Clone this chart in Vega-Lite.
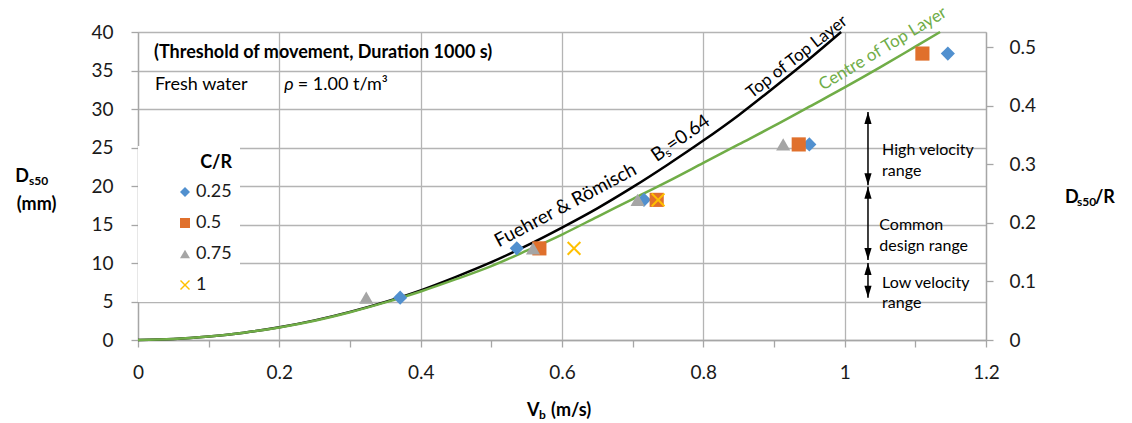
{
  "$schema": "https://vega.github.io/schema/vega-lite/v6.json",
  "width": 848,
  "height": 308,
  "autosize": {"type": "none"},
  "padding": {"left": 138, "top": 32, "right": 146, "bottom": 83},
  "background": "white",
  "config": {"view": {"stroke": null}, "font": "Lato", "text": {"font": "Lato", "color": "#000000"}},
  "datasets": {
    "points": [
      {"V": 0.371, "D": 5.5, "CR": "0.25"},
      {"V": 0.536, "D": 11.9, "CR": "0.25"},
      {"V": 0.716, "D": 18.2, "CR": "0.25"},
      {"V": 0.95, "D": 25.4, "CR": "0.25"},
      {"V": 1.146, "D": 37.2, "CR": "0.25"},
      {"V": 0.568, "D": 11.9, "CR": "0.5"},
      {"V": 0.734, "D": 18.2, "CR": "0.5"},
      {"V": 0.935, "D": 25.4, "CR": "0.5"},
      {"V": 1.11, "D": 37.2, "CR": "0.5"},
      {"V": 0.323, "D": 5.5, "CR": "0.75"},
      {"V": 0.559, "D": 11.9, "CR": "0.75"},
      {"V": 0.707, "D": 18.2, "CR": "0.75"},
      {"V": 0.913, "D": 25.4, "CR": "0.75"},
      {"V": 0.617, "D": 11.9, "CR": "1"},
      {"V": 0.736, "D": 18.2, "CR": "1"}
    ],
    "top": [
      {"V": 0, "D": 0}, {"V": 0.05, "D": 0.12}, {"V": 0.1, "D": 0.45}, {"V": 0.15, "D": 0.95},
      {"V": 0.2, "D": 1.65}, {"V": 0.25, "D": 2.55}, {"V": 0.3, "D": 3.65}, {"V": 0.35, "D": 4.95},
      {"V": 0.4, "D": 6.45}, {"V": 0.45, "D": 8.2}, {"V": 0.5, "D": 10.1}, {"V": 0.55, "D": 12.25},
      {"V": 0.6, "D": 14.6}, {"V": 0.65, "D": 17.1}, {"V": 0.7, "D": 19.85}, {"V": 0.75, "D": 22.8},
      {"V": 0.8, "D": 25.9}, {"V": 0.85, "D": 29.2}, {"V": 0.9, "D": 32.8}, {"V": 0.95, "D": 36.5},
      {"V": 0.995, "D": 40.0}
    ],
    "centre": [
      {"V": 0, "D": 0}, {"V": 0.05, "D": 0.12}, {"V": 0.1, "D": 0.45}, {"V": 0.15, "D": 0.95},
      {"V": 0.2, "D": 1.63}, {"V": 0.25, "D": 2.5}, {"V": 0.3, "D": 3.6}, {"V": 0.35, "D": 4.88},
      {"V": 0.4, "D": 6.3}, {"V": 0.45, "D": 7.9}, {"V": 0.5, "D": 9.6}, {"V": 0.55, "D": 11.6},
      {"V": 0.6, "D": 13.7}, {"V": 0.65, "D": 16.0}, {"V": 0.7, "D": 18.3}, {"V": 0.75, "D": 20.6},
      {"V": 0.8, "D": 23.0}, {"V": 0.85, "D": 25.4}, {"V": 0.9, "D": 27.8}, {"V": 0.95, "D": 30.3},
      {"V": 1.0, "D": 32.8}, {"V": 1.05, "D": 35.4}, {"V": 1.1, "D": 38.1}, {"V": 1.135, "D": 40.0}
    ],
    "arrows": [
      {"range": "High velocity", "lo": 20.1, "hi": 29.6},
      {"range": "Common design", "lo": 10.4, "hi": 19.9},
      {"range": "Low velocity", "lo": 5.5, "hi": 10.0}
    ],
    "one": [{}]
  },
  "layer": [
    {
      "layer": [
        {
          "data": {"name": "points"},
          "mark": {"type": "point", "filled": true, "opacity": 0, "size": 10},
          "encoding": {
            "x": {
              "field": "V", "type": "quantitative",
              "scale": {"domain": [0, 1.2], "nice": false, "zero": true},
              "axis": {
                "title": null,
                "values": [0, 0.1, 0.2, 0.3, 0.4, 0.5, 0.6, 0.7, 0.8, 0.9, 1, 1.1, 1.2],
                "tickCount": 30,
                "format": ".1~f",
                "labelExpr": "round(datum.value*10) % 2 == 0 ? datum.label : ''",
                "grid": true,
                "gridColor": "#B4B4B4",
                "gridWidth": 1.3,
                "gridOpacity": {"condition": {"test": "round(datum.value*10) % 2 == 0", "value": 1}, "value": 0},
                "domainColor": "#A6A6A6",
                "domainWidth": 1.3,
                "tickColor": "#A6A6A6",
                "tickWidth": 1.3,
                "tickSize": 7,
                "labelFontSize": 19,
                "labelColor": "#1a1a1a",
                "labelPadding": 16,
                "labelFlush": false,
                "labelOverlap": false
              }
            },
            "y": {
              "field": "D", "type": "quantitative",
              "scale": {"domain": [0, 40], "nice": false, "zero": true},
              "axis": {
                "title": null,
                "orient": "left",
                "values": [0, 5, 10, 15, 20, 25, 30, 35, 40],
                "tickCount": 20,
                "format": "d",
                "grid": true,
                "gridColor": "#B4B4B4",
                "gridWidth": 1.3,
                "domainColor": "#A6A6A6",
                "domainWidth": 1.3,
                "tickColor": "#A6A6A6",
                "tickWidth": 1.3,
                "tickSize": 7,
                "labelFontSize": 19,
                "labelColor": "#1a1a1a",
                "labelPadding": 18,
                "labelFlush": false,
                "labelOverlap": false
              }
            }
          }
        },
        {
          "data": {"name": "top"},
          "mark": {"type": "line", "color": "#000000", "strokeWidth": 2.5, "interpolate": "monotone"},
          "encoding": {
            "x": {"field": "V", "type": "quantitative"},
            "y": {"field": "D", "type": "quantitative"}
          }
        },
        {
          "data": {"name": "centre"},
          "mark": {"type": "line", "color": "#70AD47", "strokeWidth": 2.5, "interpolate": "monotone"},
          "encoding": {
            "x": {"field": "V", "type": "quantitative"},
            "y": {"field": "D", "type": "quantitative"}
          }
        },
        {
          "data": {"name": "points"},
          "mark": {"type": "point", "filled": true, "opacity": 1, "size": 200, "strokeWidth": 0},
          "encoding": {
            "x": {"field": "V", "type": "quantitative"},
            "y": {"field": "D", "type": "quantitative"},
            "color": {
              "field": "CR", "type": "nominal",
              "scale": {"domain": ["0.25", "0.5", "0.75", "1"], "range": ["#5190CF", "#E0702C", "#A5A5A5", "#FFC000"]},
              "legend": {
                "title": "C/R", "orient": "none", "legendX": 0, "legendY": 114,
                "fillColor": "white", "padding": 8, "symbolOffset": 30, "symbolSize": 100,
                "symbolStrokeWidth": 0, "labelFontSize": 18, "labelColor": "#1a1a1a",
                "titleFontSize": 18, "titleFontWeight": "bold", "titleColor": "#000000",
                "titleAnchor": "end", "rowPadding": 13, "titlePadding": 11, "labelOffset": 2
              }
            },
            "shape": {
              "field": "CR", "type": "nominal",
              "scale": {"domain": ["0.25", "0.5", "0.75", "1"], "range": ["diamond", "square", "triangle-up", "M-1,-0.8L-0.8,-1L0,-0.2L0.8,-1L1,-0.8L0.2,0L1,0.8L0.8,1L0,0.2L-0.8,1L-1,0.8L-0.2,0Z"]},
              "legend": {
                "title": "C/R", "orient": "none", "legendX": 0, "legendY": 114,
                "fillColor": "white", "padding": 8, "symbolOffset": 30, "symbolSize": 100,
                "symbolStrokeWidth": 0, "labelFontSize": 18, "labelColor": "#1a1a1a",
                "titleFontSize": 18, "titleFontWeight": "bold", "titleColor": "#000000",
                "titleAnchor": "end", "rowPadding": 13, "titlePadding": 11, "labelOffset": 2
              }
            }
          }
        },
        {
          "data": {"name": "arrows"},
          "mark": {"type": "rule", "color": "#000000", "strokeWidth": 1.5},
          "encoding": {
            "x": {"datum": 1.033, "type": "quantitative"},
            "y": {"field": "lo", "type": "quantitative"},
            "y2": {"field": "hi"}
          }
        },
        {
          "data": {"name": "arrows"},
          "mark": {"type": "point", "filled": true, "color": "#000000", "opacity": 1, "strokeWidth": 0, "size": 144, "shape": "M0,-1L0.6,1L-0.6,1Z", "yOffset": 6},
          "encoding": {
            "x": {"datum": 1.033, "type": "quantitative"},
            "y": {"field": "hi", "type": "quantitative"}
          }
        },
        {
          "data": {"name": "arrows"},
          "mark": {"type": "point", "filled": true, "color": "#000000", "opacity": 1, "strokeWidth": 0, "size": 144, "shape": "M0,1L0.6,-1L-0.6,-1Z", "yOffset": -6},
          "encoding": {
            "x": {"datum": 1.033, "type": "quantitative"},
            "y": {"field": "lo", "type": "quantitative"}
          }
        },
        {
          "data": {"name": "one"},
          "layer": [
            {
              "mark": {"type": "text", "text": ["High velocity", "range"], "align": "left", "baseline": "middle", "fontSize": 16, "lineHeight": 21},
              "encoding": {"x": {"datum": 1.053, "type": "quantitative"}, "y": {"datum": 24.7, "type": "quantitative"}}
            },
            {
              "mark": {"type": "text", "text": ["Common", "design range"], "align": "left", "baseline": "middle", "fontSize": 16, "lineHeight": 21},
              "encoding": {"x": {"datum": 1.049, "type": "quantitative"}, "y": {"datum": 14.9, "type": "quantitative"}}
            },
            {
              "mark": {"type": "text", "text": ["Low velocity", "range"], "align": "left", "baseline": "middle", "fontSize": 16, "lineHeight": 20},
              "encoding": {"x": {"datum": 1.053, "type": "quantitative"}, "y": {"datum": 7.4, "type": "quantitative"}}
            },
            {
              "mark": {"type": "text", "text": "(Threshold of movement, Duration 1000 s)", "align": "left", "baseline": "middle", "fontSize": 18, "fontWeight": "bold"},
              "encoding": {"x": {"datum": 0.0226, "type": "quantitative"}, "y": {"datum": 37.3, "type": "quantitative"}}
            },
            {
              "mark": {"type": "text", "text": "Fresh water", "align": "left", "baseline": "middle", "fontSize": 18},
              "encoding": {"x": {"datum": 0.024, "type": "quantitative"}, "y": {"datum": 33.1, "type": "quantitative"}}
            },
            {
              "mark": {"type": "text", "text": "ρ", "align": "left", "baseline": "middle", "fontSize": 18, "fontStyle": "italic"},
              "encoding": {"x": {"datum": 0.207, "type": "quantitative"}, "y": {"datum": 33.1, "type": "quantitative"}}
            },
            {
              "mark": {"type": "text", "text": "= 1.00 t/m³", "align": "left", "baseline": "middle", "fontSize": 18},
              "encoding": {"x": {"datum": 0.226, "type": "quantitative"}, "y": {"datum": 33.1, "type": "quantitative"}}
            },
            {
              "mark": {"type": "text", "text": "Fuehrer & Römisch", "align": "center", "baseline": "middle", "fontSize": 19, "angle": -28},
              "encoding": {"x": {"datum": 0.605, "type": "quantitative"}, "y": {"datum": 17.5, "type": "quantitative"}}
            },
            {
              "mark": {"type": "text", "text": "B", "align": "left", "baseline": "alphabetic", "fontSize": 19, "angle": -35},
              "encoding": {"x": {"datum": 0.734, "type": "quantitative"}, "y": {"datum": 23.1, "type": "quantitative"}}
            },
            {
              "mark": {"type": "text", "text": "s", "align": "left", "baseline": "alphabetic", "fontSize": 12, "angle": -35, "dx": 12, "dy": 3},
              "encoding": {"x": {"datum": 0.734, "type": "quantitative"}, "y": {"datum": 23.1, "type": "quantitative"}}
            },
            {
              "mark": {"type": "text", "text": "=0.64", "align": "left", "baseline": "alphabetic", "fontSize": 19, "angle": -35, "dx": 18},
              "encoding": {"x": {"datum": 0.734, "type": "quantitative"}, "y": {"datum": 23.1, "type": "quantitative"}}
            },
            {
              "mark": {"type": "text", "text": "Top of Top Layer", "align": "center", "baseline": "middle", "fontSize": 17, "angle": -38},
              "encoding": {"x": {"datum": 0.9325, "type": "quantitative"}, "y": {"datum": 36.75, "type": "quantitative"}}
            },
            {
              "mark": {"type": "text", "text": "Centre of Top Layer", "align": "center", "baseline": "middle", "fontSize": 17, "angle": -31, "color": "#70AD47"},
              "encoding": {"x": {"datum": 1.054, "type": "quantitative"}, "y": {"datum": 37.8, "type": "quantitative"}}
            },
            {
              "mark": {"type": "text", "text": "D", "align": "right", "baseline": "alphabetic", "fontSize": 18, "fontWeight": "bold"},
              "encoding": {"x": {"datum": -0.1542, "type": "quantitative"}, "y": {"datum": 20.5, "type": "quantitative"}}
            },
            {
              "mark": {"type": "text", "text": "s50", "align": "left", "baseline": "alphabetic", "fontSize": 12, "fontWeight": "bold", "dy": 3},
              "encoding": {"x": {"datum": -0.1542, "type": "quantitative"}, "y": {"datum": 20.5, "type": "quantitative"}}
            },
            {
              "mark": {"type": "text", "text": "(mm)", "align": "center", "baseline": "middle", "fontSize": 18, "fontWeight": "bold"},
              "encoding": {"x": {"datum": -0.1436, "type": "quantitative"}, "y": {"datum": 17.5, "type": "quantitative"}}
            },
            {
              "mark": {"type": "text", "text": "D", "align": "left", "baseline": "alphabetic", "fontSize": 18, "fontWeight": "bold"},
              "encoding": {"x": {"datum": 1.3117, "type": "quantitative"}, "y": {"datum": 17.8, "type": "quantitative"}}
            },
            {
              "mark": {"type": "text", "text": "s50", "align": "left", "baseline": "alphabetic", "fontSize": 12, "fontWeight": "bold", "dx": 12, "dy": 3},
              "encoding": {"x": {"datum": 1.3117, "type": "quantitative"}, "y": {"datum": 17.8, "type": "quantitative"}}
            },
            {
              "mark": {"type": "text", "text": "/R", "align": "left", "baseline": "alphabetic", "fontSize": 18, "fontWeight": "bold", "dx": 30},
              "encoding": {"x": {"datum": 1.3117, "type": "quantitative"}, "y": {"datum": 17.8, "type": "quantitative"}}
            },
            {
              "mark": {"type": "text", "text": "V", "align": "left", "baseline": "alphabetic", "fontSize": 18, "fontWeight": "bold"},
              "encoding": {"x": {"datum": 0.5505, "type": "quantitative"}, "y": {"datum": -9.87, "type": "quantitative"}}
            },
            {
              "mark": {"type": "text", "text": "b", "align": "left", "baseline": "alphabetic", "fontSize": 12, "fontWeight": "bold", "dx": 12, "dy": 3},
              "encoding": {"x": {"datum": 0.5505, "type": "quantitative"}, "y": {"datum": -9.87, "type": "quantitative"}}
            },
            {
              "mark": {"type": "text", "text": "(m/s)", "align": "left", "baseline": "alphabetic", "fontSize": 18, "fontWeight": "bold", "dx": 24},
              "encoding": {"x": {"datum": 0.5505, "type": "quantitative"}, "y": {"datum": -9.87, "type": "quantitative"}}
            }
          ]
        }
      ]
    },
    {
      "data": {"name": "one"},
      "mark": {"type": "rule", "opacity": 0},
      "encoding": {
        "y": {
          "datum": 0, "type": "quantitative",
          "scale": {"domain": [0, 0.526], "nice": false, "zero": true},
          "axis": {
            "orient": "right",
            "title": null,
            "values": [0, 0.1, 0.2, 0.3, 0.4, 0.5],
            "tickCount": 20,
            "format": ".1~f",
            "grid": false,
            "domainColor": "#A6A6A6",
            "domainWidth": 1.3,
            "tickColor": "#A6A6A6",
            "tickWidth": 1.3,
            "tickSize": 7,
            "labelFontSize": 19,
            "labelColor": "#1a1a1a",
            "labelPadding": 16,
            "labelFlush": false,
            "labelOverlap": false
          }
        }
      }
    }
  ],
  "resolve": {"scale": {"y": "independent"}, "axis": {"y": "independent"}}
}
